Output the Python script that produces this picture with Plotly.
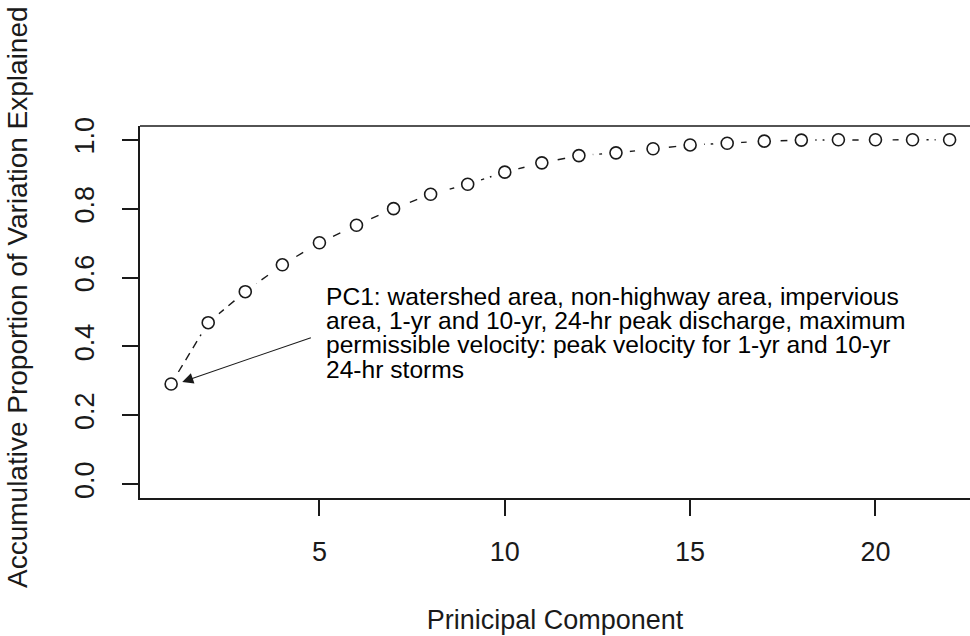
import plotly.graph_objects as go

# ---- data ----
components = list(range(1, 23))
cum_prop = [0.291, 0.469, 0.559, 0.637, 0.701, 0.752, 0.800, 0.842, 0.871, 0.906,
            0.933, 0.954, 0.962, 0.974, 0.985, 0.990, 0.996, 0.999, 1.0, 1.0, 1.0, 1.0]
x_ticks = [5, 10, 15, 20]
y_ticks = [0.0, 0.2, 0.4, 0.6, 0.8, 1.0]
note_lines = [
    "PC1: watershed area, non-highway area, impervious",
    "area, 1-yr and 10-yr, 24-hr peak discharge, maximum",
    "permissible velocity: peak velocity for 1-yr and 10-yr",
    "24-hr storms",
]
x_title = "Prinicipal Component"
y_title = "Accumulative Proportion of Variation Explained"

FONT = "Liberation Sans, Arial, sans-serif"
INK = "#1a1a1a"

fig = go.Figure()
# dashed connecting line
fig.add_trace(go.Scatter(x=components, y=cum_prop, mode="lines",
                         line=dict(color=INK, width=1.4, dash="8px,6px"),
                         hoverinfo="skip", showlegend=False))
# white halos to create gaps around points (type="b")
fig.add_trace(go.Scatter(x=components, y=cum_prop, mode="markers",
                         marker=dict(symbol="circle", size=28, color="white",
                                     line=dict(width=0)),
                         hoverinfo="skip", showlegend=False))
# open circles
fig.add_trace(go.Scatter(x=components, y=cum_prop, mode="markers",
                         marker=dict(symbol="circle-open", size=12, color=INK,
                                     line=dict(width=1.6, color=INK)),
                         showlegend=False))

annotations = []
# arrow pointing at PC1
annotations.append(dict(x=components[0] + 0.3, y=cum_prop[0] + 0.006, xref="x", yref="y",
                        ax=4.81, ay=0.427, axref="x", ayref="y",
                        text="", showarrow=True, arrowhead=2, arrowsize=2.0,
                        arrowwidth=1.1, arrowcolor=INK, standoff=0, startstandoff=0))
# multi-line note: base font sets the line spacing, spans set glyph size
note_html = "<br>".join('<span style="font-size:24.6px">%s</span>' % t for t in note_lines)
annotations.append(dict(x=5.135, y=0.438, xref="x", yref="y", text=note_html,
                        showarrow=False, xanchor="left", yanchor="middle",
                        align="left", font=dict(family=FONT, size=18.6, color="black")))
# y-axis title
annotations.append(dict(x=(17 - 140) / 830, y=(498 - 297) / 372, xref="paper", yref="paper",
                        text=y_title, showarrow=False, textangle=-90,
                        xanchor="center", yanchor="middle",
                        font=dict(family=FONT, size=28, color=INK)))

fig.update_layout(
    width=970, height=636,
    margin=dict(l=140, r=0, t=126, b=138),
    paper_bgcolor="white", plot_bgcolor="white",
    font=dict(family=FONT, size=27, color=INK),
    showlegend=False,
    xaxis=dict(range=[0.16, 22.55], tickmode="array", tickvals=x_ticks,
               ticks="outside", ticklen=16, tickwidth=1.5, tickcolor=INK,
               showline=True, linecolor=INK, linewidth=1.5, showgrid=False,
               zeroline=False, ticklabelstandoff=13,
               tickfont=dict(family=FONT, size=27, color=INK),
               title=dict(text=x_title, standoff=44,
                          font=dict(family=FONT, size=27, color=INK))),
    yaxis=dict(range=[-0.04, 1.04], tickmode="array", tickvals=y_ticks,
               tickformat=".1f", tickangle=-90,
               ticks="outside", ticklen=16, tickwidth=1.5, tickcolor=INK,
               showline=True, linecolor=INK, linewidth=1.5, showgrid=False,
               zeroline=False, ticklabelstandoff=17,
               tickfont=dict(family=FONT, size=27, color=INK)),
    annotations=annotations,
    shapes=[dict(type="line", xref="paper", yref="paper", x0=0, x1=1, y0=1, y1=1,
                 line=dict(color=INK, width=1.5))],
)

fig.write_html("out.html")
